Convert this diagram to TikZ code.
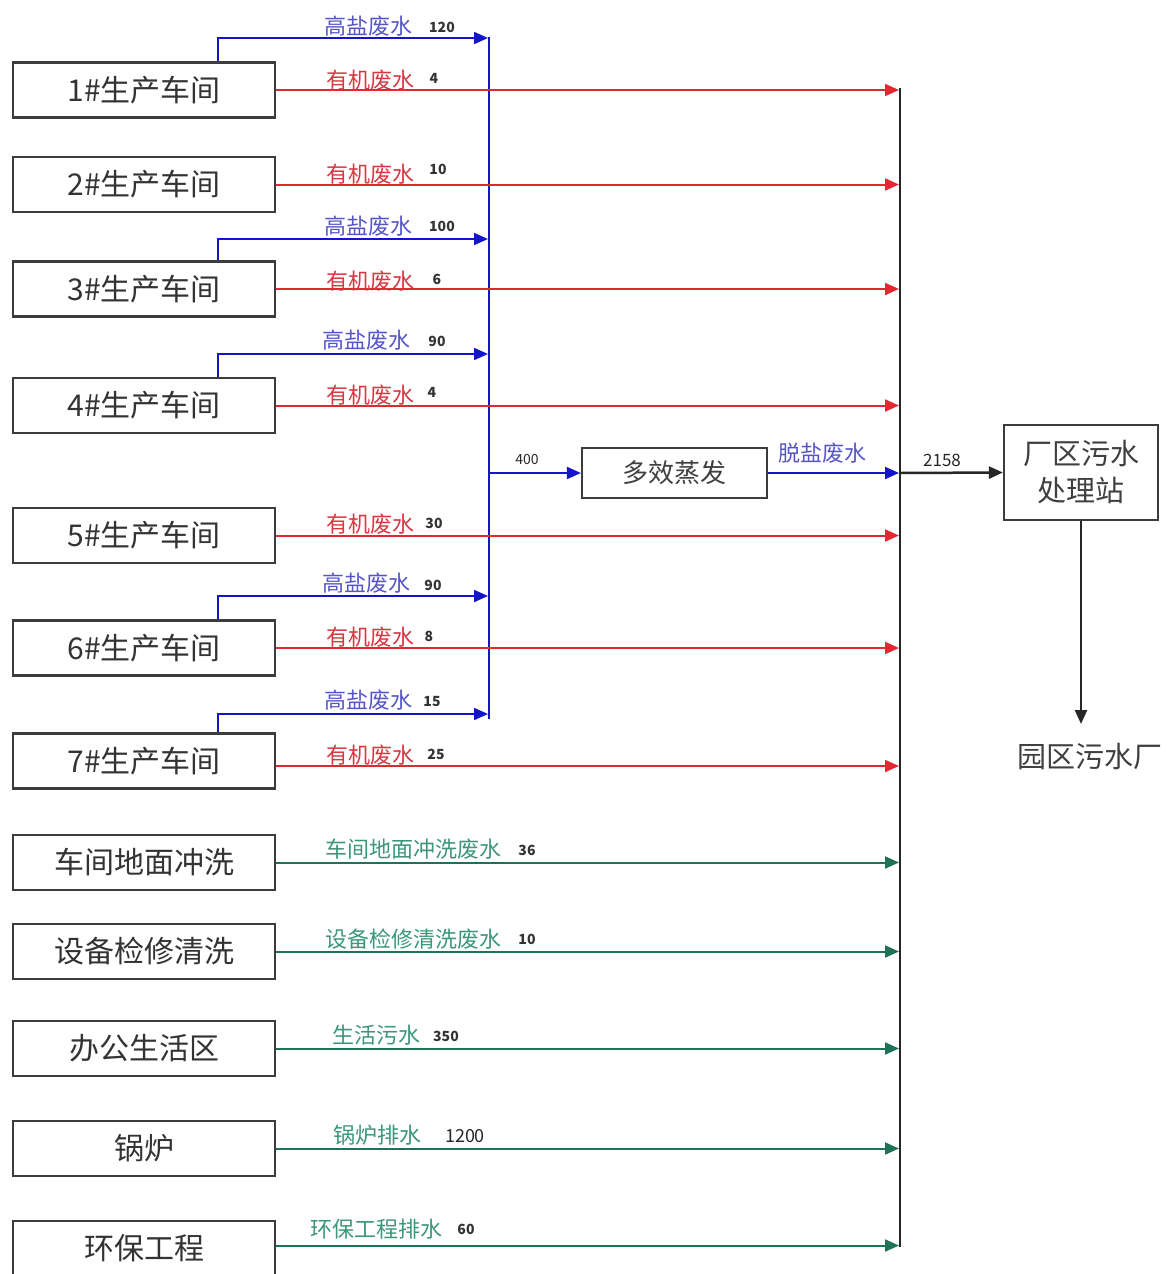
\documentclass[tikz,border=0pt]{standalone}
\usepackage{fontspec}
\setmainfont{Noto Sans CJK SC}
\usetikzlibrary{arrows.meta,calc}
\definecolor{bl}{RGB}{20,20,205}
\definecolor{blt}{RGB}{85,85,200}
\definecolor{rd}{RGB}{228,40,50}
\definecolor{rdt}{RGB}{215,55,65}
\definecolor{gn}{RGB}{30,115,85}
\definecolor{gnt}{RGB}{60,150,120}
\definecolor{bx}{RGB}{60,60,60}
\begin{document}
\begin{tikzpicture}[x=1pt,y=-1pt,
  srcbox/.style={draw=bx,line width=2.2pt,minimum width=262pt,minimum height=55pt,inner sep=0pt,font=\fontsize{30}{32}\selectfont,text=black!80},
  tip/.style={-{Triangle[length=14pt,width=12pt]}},
  bline/.style={tip,draw=bl,line width=2pt},
  rline/.style={tip,draw=rd,line width=2pt},
  gline/.style={tip,draw=gn,line width=2pt},
  klab/.style={font=\fontsize{22}{23}\selectfont},
  bt/.style={klab,text=blt},
  rt/.style={klab,text=rdt},
  gt/.style={klab,text=gnt},
  num/.style={font=\fontsize{14}{15}\selectfont\bfseries,text=black!80}]
\useasboundingbox (0,0) rectangle (1169,1274);
% source boxes
\node[srcbox] (b1) at (144,90) {1\#生产车间};
\node[srcbox] (b2) at (144,184.5) {2\#生产车间};
\node[srcbox] (b3) at (144,289) {3\#生产车间};
\node[srcbox] (b4) at (144,405.5) {4\#生产车间};
\node[srcbox] (b5) at (144,535.5) {5\#生产车间};
\node[srcbox] (b6) at (144,648) {6\#生产车间};
\node[srcbox] (b7) at (144,761) {7\#生产车间};
\node[srcbox] (g1) at (144,862.5) {车间地面冲洗};
\node[srcbox] (g2) at (144,951.5) {设备检修清洗};
\node[srcbox] (g3) at (144,1048.5) {办公生活区};
\node[srcbox] (g4) at (144,1148.5) {锅炉};
\node[srcbox] (g5) at (144,1248.5) {环保工程};
% buses
\coordinate (bus) at (489,0);
\coordinate (sink) at (899,0);
\coordinate (bustop) at (489,37);
\coordinate (busbot) at (489,719);
\coordinate (sinktop) at (900,88);
\coordinate (sinkbot) at (900,1247);
\draw[draw=bl,line width=2.2pt] (bustop) -- (busbot);
\draw[draw=black!85,line width=2.5pt] (sinktop) -- (sinkbot);
% blue branches
\foreach \b/\y in {b1/38,b3/239,b4/354,b6/596,b7/714}{
  \draw[bline] ([xshift=74pt]\b.north) |- (488,\y);
}
% red lines
\foreach \b in {b1,b2,b3,b4,b5,b6}{
  \draw[rline] (\b.east) -- (\b.east -| sink);
}
\draw[rline] ([yshift=-5pt]b7.east) -- ([yshift=-5pt]b7.east -| sink);
% green lines
\foreach \b in {g1,g2,g3,g4}{
  \draw[gline] (\b.east) -- (\b.east -| sink);
}
\draw[gline] ([yshift=3pt]g5.east) -- ([yshift=3pt]g5.east -| sink);
% blue labels
\node[bt] at (368,26) {高盐废水}; \node[num] at (442,27) {120};
\node[bt] at (368,226) {高盐废水}; \node[num] at (442,226) {100};
\node[bt] at (366,340) {高盐废水}; \node[num] at (437,341) {90};
\node[bt] at (366,583) {高盐废水}; \node[num] at (433,585) {90};
\node[bt] at (368,700) {高盐废水}; \node[num] at (432,702) {15};
% red labels
\node[rt] at (370,80) {有机废水}; \node[num] at (434,78) {4};
\node[rt] at (370,174) {有机废水}; \node[num] at (438,169) {10};
\node[rt] at (370,281) {有机废水}; \node[num] at (437,279) {6};
\node[rt] at (370,395) {有机废水}; \node[num] at (432,392) {4};
\node[rt] at (370,524) {有机废水}; \node[num] at (434,523) {30};
\node[rt] at (370,637) {有机废水}; \node[num] at (429,636) {8};
\node[rt] at (370,755) {有机废水}; \node[num] at (436,754) {25};
% green labels
\node[gt] at (413,849) {车间地面冲洗废水}; \node[num] at (527,850) {36};
\node[gt] at (413,939) {设备检修清洗废水}; \node[num] at (527,939) {10};
\node[gt] at (376,1035) {生活污水}; \node[num] at (446,1036) {350};
\node[gt] at (377,1135) {锅炉排水}; \node[font=\fontsize{18}{19}\selectfont,text=black!85] at (465,1136) {1200};
\node[gt] at (376,1229) {环保工程排水}; \node[num] at (466,1229) {60};
% evaporation
\node[draw=bx,line width=2.2pt,minimum width=185pt,minimum height=50pt,inner sep=0pt,font=\fontsize{26}{28}\selectfont,text=black!75] (ev) at (674.5,473) {多效蒸发};
\draw[bline] (bus |- ev.west) -- (ev.west);
\node[font=\fontsize{14}{15}\selectfont,text=black!85] at (527,460) {400};
\draw[bline] (ev.east) -- (ev.east -| sink);
\node[bt] at (822,453) {脱盐废水};
% treatment
\node[draw=bx,line width=2.2pt,minimum width=154pt,minimum height=95pt,inner sep=0pt,align=center,font=\fontsize{29}{37}\selectfont,text=black!75] (tr) at (1081,472.5) {厂区污水\\处理站};
\draw[tip,draw=black!85,line width=2.5pt] (ev.east -| sinktop) -- (tr.west);
\node[font=\fontsize{17}{18}\selectfont,text=black!85] at (942,460) {2158};
\coordinate (park) at (1081,724);
\draw[tip,draw=black!85,line width=2.5pt] (tr.south) -- (park);
\node[font=\fontsize{29}{31}\selectfont,text=black!75] (pk) at (1090,757) {园区污水厂};
\end{tikzpicture}
\end{document}
